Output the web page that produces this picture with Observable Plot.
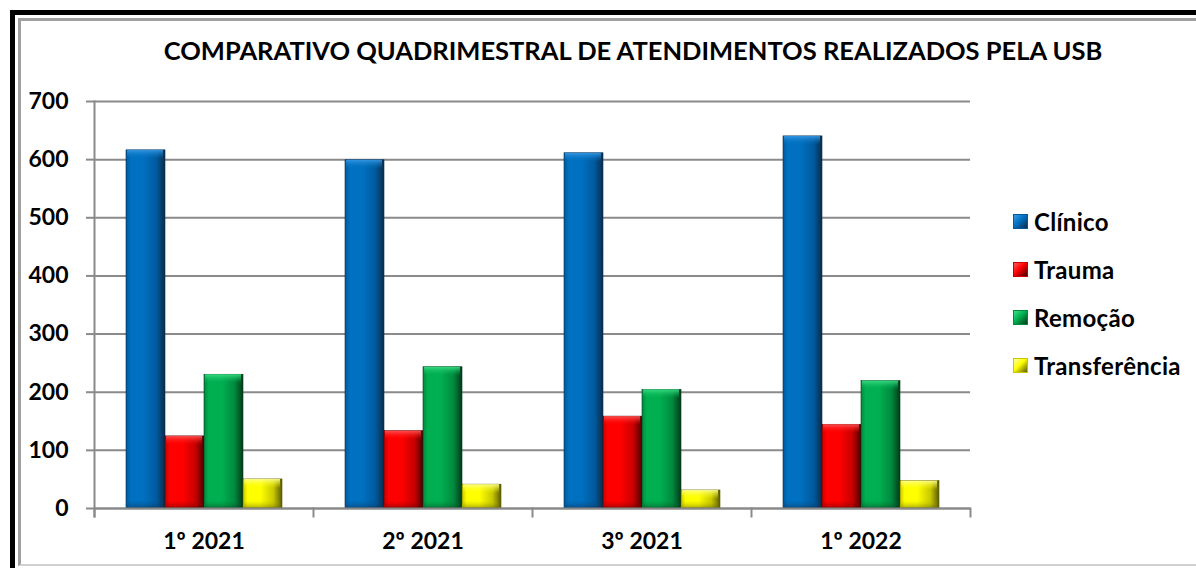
<!DOCTYPE html>
<html><head><meta charset="utf-8">
<script src="https://cdn.jsdelivr.net/npm/d3@7"></script>
<script src="https://cdn.jsdelivr.net/npm/@observablehq/plot@0.6"></script>
<style>
body{margin:0;background:#fff;font-family:Lato,"Open Sans",sans-serif;color:#000;}
#wrap{position:relative;width:1196px;height:568px;overflow:hidden;background:#fff;}
#frame{position:absolute;left:10px;top:10px;width:1400px;height:800px;border-top:5px solid #000;border-left:5px solid #000;box-sizing:border-box;}
#inner{position:absolute;left:18px;top:18px;width:1400px;height:548px;border-top:3px solid #a0a0a0;border-left:3px solid #a0a0a0;border-bottom:2px solid #d0d0d0;box-sizing:border-box;}
#title{position:absolute;top:35px;left:0;width:1266px;text-align:center;font-weight:bold;font-size:25.5px;white-space:nowrap;}
#chart{position:absolute;left:0;top:0;}
#legend{position:absolute;left:1013px;top:197px;}
.item{height:48px;display:flex;align-items:center;font-weight:bold;font-size:24px;letter-spacing:0.3px;}
.sw{width:15px;height:15px;margin-right:6px;box-sizing:border-box;}
</style></head>
<body>
<div id="wrap">
  <div id="frame"></div>
  <div id="inner"></div>
  <div id="title"></div>
  <div id="chart"></div>
  <div id="legend"></div>
</div>
<script>
// ---- data ----
const title = "COMPARATIVO QUADRIMESTRAL DE ATENDIMENTOS REALIZADOS PELA USB";
const categories = ["1º 2021", "2º 2021", "3º 2021", "1º 2022"];
const series = ["Clínico", "Trauma", "Remoção", "Transferência"];
const clinico = [616, 599, 611, 640];
const trauma = [124, 133, 158, 144];
const remocao = [230, 243, 204, 219];
const transferencia = [50, 41, 31, 47];
const yTicks = [0, 100, 200, 300, 400, 500, 600, 700];

// ---- styles ----
const palette = [
  {base: "#0070C0", light: "#3a9be6", dark: "#0b2c4a", mid: "#005a9e"},
  {base: "#FF0000", light: "#ff5a5a", dark: "#4a0000", mid: "#c80000"},
  {base: "#00B050", light: "#3ee088", dark: "#003a1a", mid: "#008a3e"},
  {base: "#FFFF00", light: "#ffff9a", dark: "#5a5a00", mid: "#c8c800"}
];

const valuesBySeries = [clinico, trauma, remocao, transferencia];
const data = [];
series.forEach((s, i) => categories.forEach((c, j) => data.push({cat: c, series: s, value: valuesBySeries[i][j]})));

document.getElementById("title").textContent = title;

const font = "Lato, 'Open Sans', sans-serif";
const grey = "#8a8a8a";
const marks = [
  Plot.gridY(yTicks, {stroke: grey, strokeOpacity: 1, strokeWidth: 2}),
  Plot.axisY(yTicks, {tickSize: 8, tickPadding: 18, stroke: grey, strokeWidth: 2, fontSize: 23, fontWeight: "bold", fill: "#000", label: null}),
  Plot.frame({facet: "super", anchor: "left", stroke: grey, strokeWidth: 2, insetBottom: -8}),
  Plot.frame({anchor: "left", stroke: grey, strokeWidth: 2, insetTop: 407, insetBottom: -8}),
  Plot.frame({facet: "super", anchor: "right", stroke: grey, strokeWidth: 2, insetTop: 407, insetBottom: -8}),
  Plot.axisFx({anchor: "bottom", tickSize: 0, tickPadding: 24, fontSize: 23, fontWeight: "bold", fill: "#000", label: null})
];
series.forEach((s, i) => {
  const d = data.filter(r => r.series === s);
  marks.push(Plot.barY(d, {fx: "cat", x: "series", y: "value", fill: `url(#bar${i})`, stroke: palette[i].dark, strokeWidth: 0.6}));
  marks.push(Plot.barY(d, {fx: "cat", x: "series", y1: "value", y2: "value", insetBottom: -9, insetLeft: 1, insetRight: 2, fill: `url(#top${i})`}));
  marks.push(Plot.barY(d, {fx: "cat", x: "series", y1: 0, y2: 0, insetTop: -8, insetLeft: 1, insetRight: 2, fill: `url(#bot${i})`}));
});
marks.push(Plot.ruleY([0], {stroke: grey, strokeWidth: 2}));

const chart = Plot.plot({
  width: 1196,
  height: 568,
  marginTop: 101,
  marginBottom: 60,
  marginLeft: 94,
  marginRight: 226,
  style: {fontFamily: font, background: "transparent", color: "#000", overflow: "visible"},
  fx: {domain: categories, padding: 0, label: null, axis: null},
  x: {domain: series, paddingInner: 0, paddingOuter: 0.74, axis: null},
  y: {domain: [0, 700], axis: null},
  marks
});

// gradient definitions for the bevelled bars
const svg = chart.tagName.toLowerCase() === "svg" ? chart : chart.querySelector("svg");
const defs = d3.select(svg).insert("defs", ":first-child");
palette.forEach((p, i) => {
  const g = defs.append("linearGradient").attr("id", `bar${i}`).attr("x1", 0).attr("x2", 1).attr("y1", 0).attr("y2", 0);
  [[0, p.mid], [0.12, p.base], [0.45, p.base], [0.78, p.mid], [1, p.dark]].forEach(([o, c]) => g.append("stop").attr("offset", o).attr("stop-color", c));
  const t = defs.append("linearGradient").attr("id", `top${i}`).attr("x1", 0).attr("x2", 0).attr("y1", 0).attr("y2", 1);
  [[0, p.light], [1, p.base]].forEach(([o, c]) => t.append("stop").attr("offset", o).attr("stop-color", c).attr("stop-opacity", o ? 0 : 0.9));
  const b = defs.append("linearGradient").attr("id", `bot${i}`).attr("x1", 0).attr("x2", 0).attr("y1", 0).attr("y2", 1);
  [[0, p.mid], [1, p.dark]].forEach(([o, c]) => b.append("stop").attr("offset", o).attr("stop-color", c).attr("stop-opacity", o ? 0.5 : 0));
});
document.getElementById("chart").appendChild(chart);

// legend
const legend = document.getElementById("legend");
series.forEach((s, i) => {
  const p = palette[i];
  const item = document.createElement("div");
  item.className = "item";
  const sw = document.createElement("div");
  sw.className = "sw";
  sw.style.background = `linear-gradient(135deg, ${p.light} 0%, ${p.base} 45%, ${p.dark} 100%)`;
  sw.style.border = `1px solid ${p.mid}`;
  const tx = document.createElement("span");
  tx.textContent = s;
  item.appendChild(sw); item.appendChild(tx);
  legend.appendChild(item);
});
</script>
</body></html>
